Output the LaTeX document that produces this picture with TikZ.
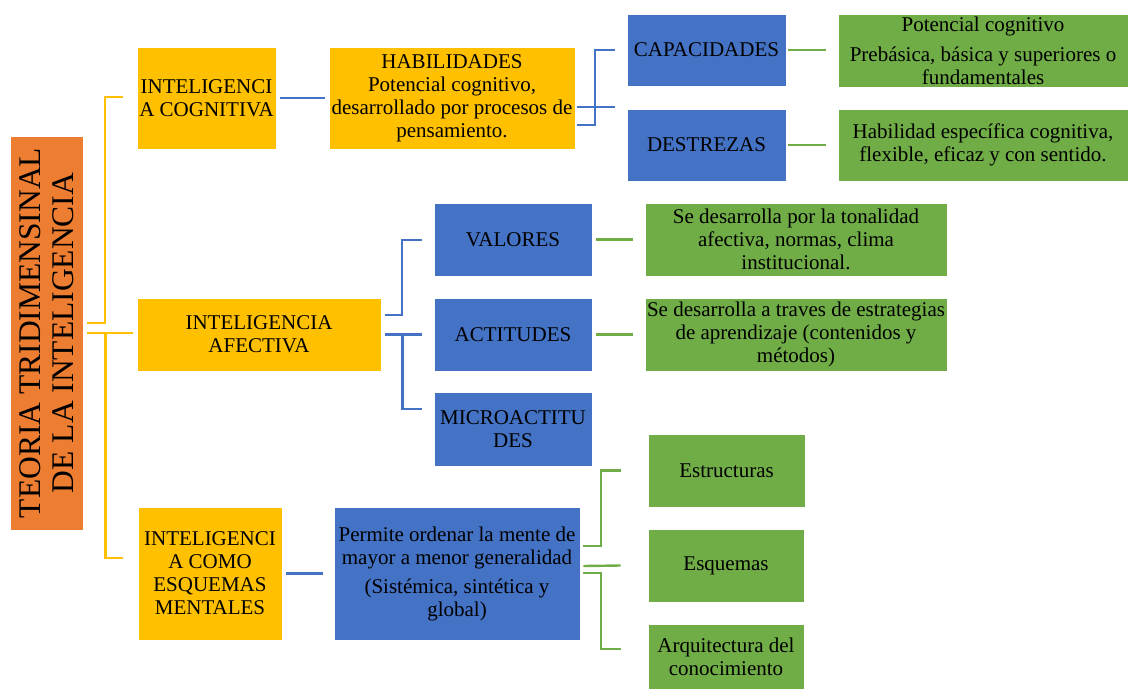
\documentclass[tikz,border=0pt]{standalone}
\usepackage{fontspec}
\setmainfont{Liberation Serif}
\usetikzlibrary{calc}
\definecolor{cOrange}{HTML}{ED7D31}
\definecolor{cYellow}{HTML}{FFC000}
\definecolor{cBlue}{HTML}{4472C4}
\definecolor{cGreen}{HTML}{70AD47}
\tikzset{
  box/.style={draw=white, line width=0.6pt, inner sep=0pt, align=center,
    font=\fontsize{21}{23}\selectfont, text=black},
  ybox/.style={box, fill=cYellow},
  bbox/.style={box, fill=cBlue},
  gbox/.style={box, fill=cGreen},
  tbox/.style={box, fill=cOrange, rotate=90, font=\fontsize{31.5}{33}\selectfont},
  yl/.style={draw=cYellow, line width=2.4pt},
  bl/.style={draw=cBlue, line width=2.4pt},
  gl/.style={draw=cGreen, line width=2.4pt},
}
\begin{document}
\begin{tikzpicture}[x=1pt,y=-1pt]
\useasboundingbox (0,0) rectangle (1128,689);
% title
\node[tbox, minimum width=394pt, minimum height=73pt] (title) at (46.5,333) {TEORIA TRIDIMENSINAL\\DE LA INTELIGENCIA};
% cognitive branch
\node[ybox, minimum width=139pt, minimum height=102pt] (cog) at (206.5,98) {INTELIGENCI\\A COGNITIVA};
\node[ybox, minimum width=246pt, minimum height=102pt] (hab) at (452,98) {HABILIDADES\\Potencial cognitivo,\\desarrollado por procesos de\\pensamiento.};
\node[bbox, minimum width=159pt, minimum height=72pt] (cap) at (706.5,50) {CAPACIDADES};
\node[bbox, minimum width=159pt, minimum height=72pt] (des) at (706.5,145) {DESTREZAS};
\node[gbox, minimum width=290pt, minimum height=73pt] (g1) at (983,50.5) {Potencial cognitivo\\[7pt]Prebásica, básica y superiores o\\fundamentales};
\node[gbox, minimum width=290pt, minimum height=72pt] (g2) at (983,145) {Habilidad específica cognitiva,\\flexible, eficaz y con sentido.};
% affective branch
\node[ybox, minimum width=244pt, minimum height=73pt] (afe) at (259,334.5) {INTELIGENCIA\\AFECTIVA};
\node[bbox, minimum width=158pt, minimum height=73pt] (val) at (513,239.5) {VALORES};
\node[bbox, minimum width=158pt, minimum height=73pt] (act) at (513,334.5) {ACTITUDES};
\node[bbox, minimum width=158pt, minimum height=74pt] (mic) at (513,429) {MICROACTITU\\DES};
\node[gbox, minimum width=302pt, minimum height=73pt] (gv) at (796,239.5) {Se desarrolla por la tonalidad\\afectiva, normas, clima\\institucional.};
\node[gbox, minimum width=302pt, minimum height=73pt] (ga) at (796,334.5) {Se desarrolla a traves de estrategias\\de aprendizaje (contenidos y\\métodos)};
% schemes branch
\node[ybox, minimum width=144pt, minimum height=133pt] (emen) at (210,573.5) {INTELIGENCI\\A COMO\\ESQUEMAS\\MENTALES};
\node[bbox, minimum width=246pt, minimum height=133pt] (perm) at (457,573.5) {Permite ordenar la mente de\\mayor a menor generalidad\\[6pt](Sistémica, sintética y\\global)};
\node[gbox, minimum width=157pt, minimum height=73pt] (est) at (726.5,470.5) {Estructuras};
\node[gbox, minimum width=156pt, minimum height=73pt] (esqm) at (726,565.5) {Esquemas};
\node[gbox, minimum width=156pt, minimum height=65pt] (arq) at (726,656.5) {Arquitectura del\\conocimiento};
% yellow connectors
\draw[yl] ($(title.south)+(4,-10)$) -| ($(cog.west)+(-32,-1)$) -- ($(cog.west)+(-14,-1)$);
\draw[yl] ($(title.south)+(4,0)$) -- ($(title.south)+(50,0)$);
\draw[yl] ($(title.south)+(22,0)$) |- ($(emen.west)+(-15,-15.5)$);
% blue connectors
\draw[bl] ($(cog.east)+(4,0)$) -- ($(hab.west)+(-4,0)$);
\draw[bl] ($(hab.east)+(2,27)$) -| ($(cap.west)+(-32,0)$) -- ($(cap.west)+(-12,0)$);
\coordinate (hd) at ($(hab.east)+(2,9)$);
\draw[bl] (hd) -- ($(hd -| des.west)+(-12,0)$);
\draw[bl] ($(afe.east)+(4,-19.5)$) -| ($(val.west)+(-32,0.5)$) -- ($(val.west)+(-12,0.5)$);
\draw[bl] ($(afe.east)+(4,0)$) -- ($(act.west)+(-12,0)$);
\draw[bl] ($(afe.east)+(21,0)$) |- ($(mic.west)+(-12,-20)$);
\draw[bl] ($(emen.east)+(4,0)$) -- ($(perm.west)+(-11,0)$);
% green connectors
\draw[gl] ($(cap.east)+(2,0)$) -- ($(g1.west)+(-12,-0.5)$);
\draw[gl] ($(des.east)+(2,0)$) -- ($(g2.west)+(-12,0)$);
\draw[gl] ($(val.east)+(4,0)$) -- ($(gv.west)+(-12,0)$);
\draw[gl] ($(act.east)+(4,0)$) -- ($(ga.west)+(-12,0)$);
\draw[gl] ($(perm.east)+(3,-27.5)$) -| ($(est.west)+(-47,0)$) -- ($(est.west)+(-27,0)$);
\draw[gl] ($(perm.east)+(3,-7.5)$) -- ($(esqm.west)+(-27,0)$);
\draw[gl] ($(perm.east)+(3,-0.5)$) -| ($(arq.west)+(-47,-7.5)$) -- ($(arq.west)+(-27,-7.5)$);
\end{tikzpicture}
\end{document}
